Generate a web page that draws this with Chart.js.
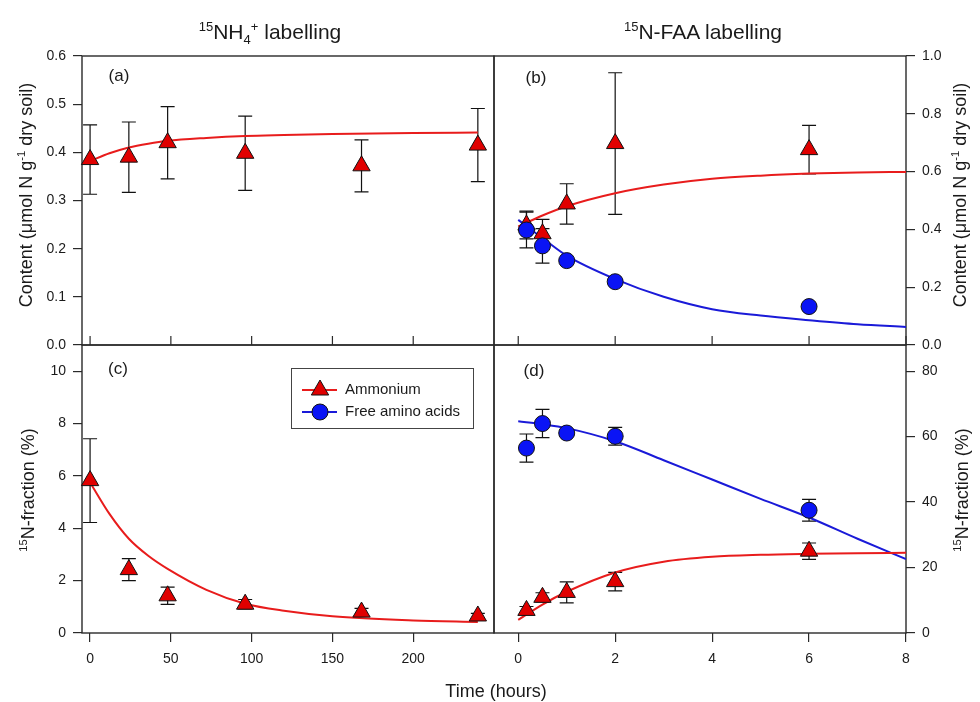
<!DOCTYPE html>
<html>
<head>
<meta charset="utf-8">
<script src="https://cdn.jsdelivr.net/npm/chart.js@4.4.0/dist/chart.umd.min.js"></script>
<style>
  body { margin: 0; background: #fff; }
  #wrap { position: relative; width: 980px; height: 702px; overflow: hidden;
          font-family: "Liberation Sans", Arial, sans-serif; color: #1a1a1a; }
  #wrap canvas { position: absolute; left: 0; top: 0; }
  .t { position: absolute; white-space: nowrap; transform: translate(-50%, -50%); line-height: 1; }
  .rot { transform: translate(-50%, -50%) rotate(-90deg); }
  sup, sub { font-size: 0.62em; line-height: 0; position: relative; vertical-align: baseline; }
  sup { top: -0.6em; }
  sub { top: 0.35em; }
</style>
</head>
<body>
<div id="wrap">
  <canvas id="panelA" width="980" height="702"></canvas>
  <canvas id="panelB" width="980" height="702"></canvas>
  <canvas id="panelC" width="980" height="702"></canvas>
  <canvas id="panelD" width="980" height="702"></canvas>

  <div class="t" style="left:270px;top:31px;font-size:21px"><sup>15</sup>NH<sub>4</sub><sup>+</sup> labelling</div>
  <div class="t" style="left:703px;top:31px;font-size:21px"><sup>15</sup>N-FAA labelling</div>

  <div class="t" style="left:119px;top:75px;font-size:17px">(a)</div>
  <div class="t" style="left:536px;top:77px;font-size:17px">(b)</div>
  <div class="t" style="left:118px;top:368px;font-size:17px">(c)</div>
  <div class="t" style="left:534px;top:370px;font-size:17px">(d)</div>

  <div class="t rot" style="left:26px;top:195px;font-size:18px">Content (μmol N g<sup>-1</sup> dry soil)</div>
  <div class="t rot" style="left:28px;top:490px;font-size:18px"><sup>15</sup>N-fraction (%)</div>
  <div class="t rot" style="left:960px;top:195px;font-size:18px">Content (μmol N g<sup>-1</sup> dry soil)</div>
  <div class="t rot" style="left:962px;top:490px;font-size:18px"><sup>15</sup>N-fraction (%)</div>

  <div class="t" style="left:496px;top:691px;font-size:18px">Time (hours)</div>
</div>

<script>
// ---- data: 15NH4+ labelling (time in hours) ----
const timeNH4 = [0, 24, 48, 96, 168, 240];
const contentAmmNH4 = [0.385, 0.39, 0.42, 0.398, 0.372, 0.415];
const contentAmmNH4Err = [0.072, 0.073, 0.075, 0.077, 0.054, 0.076];
const fractionAmmNH4 = [5.82, 2.42, 1.42, 1.1, 0.8, 0.65];
const fractionAmmNH4Err = [1.6, 0.42, 0.33, 0.18, 0.14, 0.1];

// fitted curves
const fitTimeNH4 = [0, 12, 24, 36, 48, 72, 96, 120, 150, 200, 240];
const fitContentAmmNH4 = [0.382, 0.398, 0.41, 0.418, 0.424, 0.43, 0.434, 0.436, 0.438, 0.44, 0.441];
const fitFractionAmmNH4 = [5.75, 4.55, 3.6, 2.95, 2.45, 1.65, 1.12, 0.85, 0.64, 0.48, 0.42];

// ---- data: 15N-FAA labelling (time in hours) ----
const timeFAA = [0.17, 0.5, 1, 2, 6];
const contentAmmFAA = [0.415, 0.385, 0.488, 0.697, 0.676];
const contentAmmFAAErr = [0.048, 0.05, 0.07, 0.245, 0.084];
const contentAaFAA = [0.398, 0.343, 0.292, 0.219, 0.133];
const contentAaFAAErr = [0.062, 0.06, 0, 0, 0];
const fractionAmmFAA = [6.9, 10.9, 12.4, 15.7, 25.0];
const fractionAmmFAAErr = [1.2, 1.4, 3.2, 2.8, 2.5];
const fractionAaFAA = [56.5, 64.0, 61.1, 60.1, 37.5];
const fractionAaFAAErr = [4.3, 4.3, 0.9, 2.7, 3.3];

const fitTimeFAA = [0, 0.5, 1, 2, 3, 4, 5, 6, 7, 8];
const fitContentAmmFAA = [0.41, 0.448, 0.48, 0.525, 0.555, 0.575, 0.586, 0.593, 0.597, 0.599];
const fitContentAaFAA = [0.433, 0.37, 0.309, 0.228, 0.167, 0.124, 0.102, 0.086, 0.072, 0.0625];
const fitFractionAmmFAA = [4.0, 8.7, 12.6, 18.5, 21.8, 23.3, 23.9, 24.2, 24.4, 24.5];
const fitFractionAaFAA = [64.7, 63.8, 62.6, 58.6, 52.8, 46.9, 41.0, 35.3, 28.8, 22.6];

// ---- tick labels ----
const hourTicksNH4 = [0, 50, 100, 150, 200];
const hourTicksFAA = [0, 2, 4, 6, 8];
const contentTicksNH4 = [0, 0.1, 0.2, 0.3, 0.4, 0.5, 0.6];
const contentTicksFAA = [0, 0.2, 0.4, 0.6, 0.8, 1.0];
const fractionTicksNH4 = [0, 2, 4, 6, 8, 10];
const fractionTicksFAA = [0, 20, 40, 60, 80];

// ---- look ----
const FONT = '"Liberation Sans", Arial, sans-serif';
const AXIS = '#2a2a2a';
const RED_FILL = '#e00000';
const RED_LINE = '#e81c1c';
const BLUE_FILL = '#0a14f5';
const BLUE_LINE = '#1a1ad8';
const TRI_R = 10;
const DOT_R = 8;
// plot rectangles (px)
const L = { x0: 82, xMid: 494, x1: 906, y0: 56, yMid: 345, y1: 633, W: 980, H: 702 };

const pairs = (xs, ys) => xs.map((x, i) => ({ x, y: ys[i] }));

function markers(xs, ys, errs, red) {
  return {
    data: pairs(xs, ys),
    errorBars: errs,
    showLine: false,
    pointStyle: red ? 'triangle' : 'circle',
    pointRadius: red ? TRI_R : DOT_R,
    pointBackgroundColor: red ? RED_FILL : BLUE_FILL,
    pointBorderColor: '#111',
    pointBorderWidth: 1,
    order: red ? 1 : 0, // circles sit on top of triangles
    clip: false
  };
}

function curve(xs, ys, red) {
  return {
    data: pairs(xs, ys),
    showLine: true,
    pointRadius: 0,
    borderColor: red ? RED_LINE : BLUE_LINE,
    borderWidth: 2,
    cubicInterpolationMode: 'monotone',
    fill: false,
    order: 2
  };
}

// box round each plot, inward x ticks on the upper panels
const framePlugin = {
  id: 'frame',
  beforeDatasetsDraw(chart) {
    const { ctx, chartArea: a } = chart;
    const xs = chart.scales.x;
    ctx.save();
    ctx.strokeStyle = AXIS;
    ctx.lineWidth = 1.4;
    ctx.strokeRect(a.left, a.top, a.right - a.left, a.bottom - a.top);
    if (!xs.options.display) {
      ctx.lineWidth = 1.2;
      ctx.beginPath();
      xs.ticks.forEach(t => {
        const px = xs.getPixelForValue(t.value);
        ctx.moveTo(px, a.bottom);
        ctx.lineTo(px, a.bottom - 9);
      });
      ctx.stroke();
    }
    ctx.restore();
  }
};

const errorBarPlugin = {
  id: 'errorBars',
  beforeDatasetsDraw(chart) {
    const { ctx } = chart;
    const ys = chart.scales.y;
    ctx.save();
    ctx.strokeStyle = '#111';
    ctx.lineWidth = 1.2;
    chart.data.datasets.forEach((ds, i) => {
      if (!ds.errorBars) return;
      chart.getDatasetMeta(i).data.forEach((pt, j) => {
        const e = ds.errorBars[j];
        if (!e) return;
        const v = ds.data[j].y;
        const yt = ys.getPixelForValue(v + e);
        const yb = ys.getPixelForValue(v - e);
        ctx.beginPath();
        ctx.moveTo(pt.x, yt); ctx.lineTo(pt.x, yb);
        ctx.moveTo(pt.x - 7, yt); ctx.lineTo(pt.x + 7, yt);
        ctx.moveTo(pt.x - 7, yb); ctx.lineTo(pt.x + 7, yb);
        ctx.stroke();
      });
    });
    ctx.restore();
  }
};

function drawMarker(ctx, red, x, y) {
  ctx.beginPath();
  if (red) {
    ctx.moveTo(x, y - TRI_R);
    ctx.lineTo(x + 0.866 * TRI_R, y + 0.5 * TRI_R);
    ctx.lineTo(x - 0.866 * TRI_R, y + 0.5 * TRI_R);
    ctx.closePath();
  } else {
    ctx.arc(x, y, DOT_R, 0, Math.PI * 2);
  }
  ctx.fillStyle = red ? RED_FILL : BLUE_FILL;
  ctx.fill();
  ctx.strokeStyle = '#111';
  ctx.lineWidth = 1;
  ctx.stroke();
}

const legendPlugin = {
  id: 'boxLegend',
  afterDatasetsDraw(chart) {
    const { ctx } = chart;
    const entries = [['Ammonium', true, 390], ['Free amino acids', false, 412]];
    ctx.save();
    ctx.strokeStyle = '#444';
    ctx.lineWidth = 1;
    ctx.strokeRect(291.5, 368.5, 182, 60);
    entries.forEach(([label, red, y]) => {
      ctx.strokeStyle = red ? RED_LINE : BLUE_LINE;
      ctx.lineWidth = 2;
      ctx.beginPath();
      ctx.moveTo(302, y); ctx.lineTo(337, y);
      ctx.stroke();
      drawMarker(ctx, red, 320, y);
      ctx.fillStyle = '#1a1a1a';
      ctx.font = '15px ' + FONT;
      ctx.textBaseline = 'middle';
      ctx.fillText(label, 345, y);
    });
    ctx.restore();
  }
};

function makePanel(cfg) {
  const left = cfg.col === 0;
  const top = cfg.row === 0;
  const yW = left ? L.x0 : 60;
  const xH = 40;
  const padding = {
    left: left ? 0 : L.xMid,
    right: left ? L.W - L.xMid : L.W - L.x1 - yW,
    top: top ? L.y0 : L.yMid,
    bottom: top ? L.H - L.yMid : L.H - L.y1 - xH
  };
  const tickFont = { family: FONT, size: 14 };
  const grid = { drawOnChartArea: false, drawTicks: true, tickLength: 9, color: AXIS, lineWidth: 1.2 };
  return new Chart(document.getElementById(cfg.id), {
    type: 'scatter',
    data: { datasets: cfg.datasets },
    options: {
      responsive: false,
      animation: false,
      events: [],
      layout: { padding },
      plugins: { legend: { display: false }, tooltip: { enabled: false } },
      scales: {
        x: {
          type: 'linear',
          min: cfg.xMin, max: cfg.xMax,
          display: !top,
          afterBuildTicks: s => { s.ticks = cfg.xTicks.map(v => ({ value: v })); },
          afterFit: s => { if (s.options.display) s.height = xH; },
          grid, border: { display: false },
          ticks: { font: tickFont, color: '#1a1a1a', padding: 9, maxRotation: 0, autoSkip: false }
        },
        y: {
          type: 'linear',
          position: left ? 'left' : 'right',
          min: cfg.yMin, max: cfg.yMax,
          afterBuildTicks: s => { s.ticks = cfg.yTicks.map(v => ({ value: v })); },
          afterFit: s => { s.width = yW; },
          grid, border: { display: false },
          ticks: { font: tickFont, color: '#1a1a1a', padding: 7, autoSkip: false, callback: cfg.yFmt }
        }
      }
    },
    plugins: [framePlugin, errorBarPlugin].concat(cfg.plugins || [])
  });
}

const oneDecimal = v => v.toFixed(1);
const whole = v => String(v);

makePanel({
  id: 'panelA', col: 0, row: 0,
  xMin: -5, xMax: 250, xTicks: hourTicksNH4,
  yMin: 0, yMax: 0.6, yTicks: contentTicksNH4, yFmt: oneDecimal,
  datasets: [
    curve(fitTimeNH4, fitContentAmmNH4, true),
    markers(timeNH4, contentAmmNH4, contentAmmNH4Err, true)
  ]
});

makePanel({
  id: 'panelB', col: 1, row: 0,
  xMin: -0.5, xMax: 8, xTicks: hourTicksFAA,
  yMin: 0, yMax: 1.0, yTicks: contentTicksFAA, yFmt: oneDecimal,
  datasets: [
    curve(fitTimeFAA, fitContentAmmFAA, true),
    curve(fitTimeFAA, fitContentAaFAA, false),
    markers(timeFAA, contentAmmFAA, contentAmmFAAErr, true),
    markers(timeFAA, contentAaFAA, contentAaFAAErr, false)
  ]
});

makePanel({
  id: 'panelC', col: 0, row: 1,
  xMin: -5, xMax: 250, xTicks: hourTicksNH4,
  yMin: 0, yMax: 11, yTicks: fractionTicksNH4, yFmt: whole,
  datasets: [
    curve(fitTimeNH4, fitFractionAmmNH4, true),
    markers(timeNH4, fractionAmmNH4, fractionAmmNH4Err, true)
  ],
  plugins: [legendPlugin]
});

makePanel({
  id: 'panelD', col: 1, row: 1,
  xMin: -0.5, xMax: 8, xTicks: hourTicksFAA,
  yMin: 0, yMax: 88, yTicks: fractionTicksFAA, yFmt: whole,
  datasets: [
    curve(fitTimeFAA, fitFractionAmmFAA, true),
    curve(fitTimeFAA, fitFractionAaFAA, false),
    markers(timeFAA, fractionAmmFAA, fractionAmmFAAErr, true),
    markers(timeFAA, fractionAaFAA, fractionAaFAAErr, false)
  ]
});
</script>
</body>
</html>
